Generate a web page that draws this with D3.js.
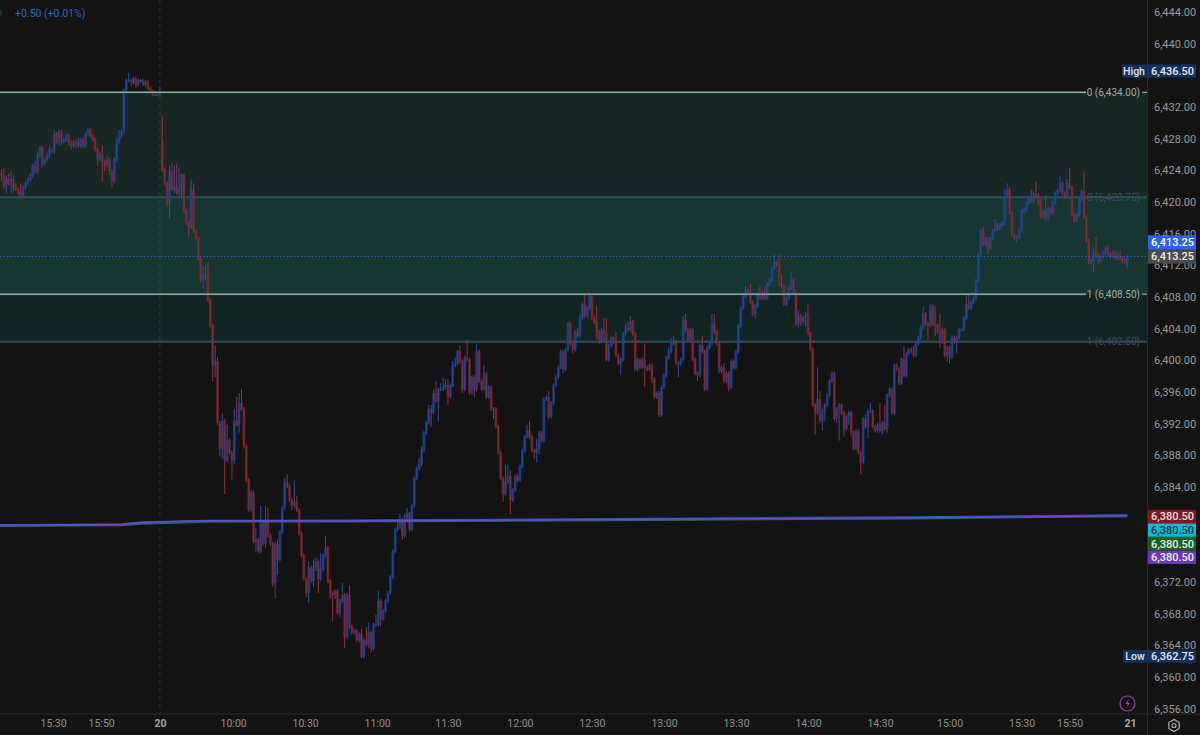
<!DOCTYPE html>
<html><head><meta charset="utf-8">
<script src="https://cdn.jsdelivr.net/npm/d3@7/dist/d3.min.js"></script>
<style>
html,body{margin:0;padding:0;background:#131313;overflow:hidden}
svg{display:block}
text{font-family:Roboto,"Liberation Sans",sans-serif}
</style></head><body><svg id="c" width="1200" height="735"></svg>
<script>
// prices are stored as points above this base
const priceBase = 6300;
const preCloses = [
123.5,122.25,123,122.5,123,122,121.75,121.5,121,122,
122.5,123,123.5,124.75,124,126,127,125,125.5,126,
126.75,126.5,128.75,127.75,129,127.75,128,128.5,127.75,127.25,
127.5,127.75,127.25,128,127.25,128.75,129.25,128.5,128,126.75,
125.5,126.25,125.25,124.75,125.5,124,122.75,125.5,127.75,128.5,
129,134.25,135.5,135.5,135.25,135.75,135,135.5,135.5,135,
135.25,134.5,134.25,133.75,133.75,133.75,134];
const sessionOpen = 128;
const sessionCloses = [
124.25,122.5,120,124,121.75,122,121.25,121.75,123.5,119,
117.5,117,121.75,116.5,115.5,113,110.25,110.75,111,107.75,
104.5,99.5,100,92.25,89,92.5,87.5,90,88.5,87.5,
92.5,92,94.75,94,89.25,85,81.25,83.5,77.25,77.5,
76,79.5,77,80,78,77,72,77,75,78.5,
81.5,84.75,84.25,82.5,81.75,82.25,81.25,78.25,75.5,72.5,
70.75,74,72.25,73.75,74.75,72.5,73.75,75.5,76.5,72.25,
70.75,70.5,71,68.25,69.75,70.5,65.25,70.5,66.5,65.75,
66,64.75,65.5,62.75,64.75,64.25,65.75,63.75,66.75,66.75,
69.75,67.5,68.5,69.75,70.75,72.75,76,78.75,79,80,
78,80,80.75,78.75,81.75,85.25,86.5,87,88.75,91,
92.25,94,93.5,96,95,96.5,96.5,96.75,97,95.5,
97,99.5,99.75,101.25,100,96.5,100.5,100.25,96,98,
96.5,101.25,97.5,96.5,98.5,95.5,96.75,94,94,91.75,
88.5,85.25,83.25,84.75,85.5,82.5,83.75,85.5,85,86.75,
88.75,90.5,91.25,90.5,88.75,88.5,89,91,90,95.25,
95.5,93,94.75,97,98,99.25,101.25,99,101.5,104.75,
102.25,101.5,103.75,103.25,105.5,107.25,105.75,106.75,108.25,105.5,
105,103.75,102.5,104,103.5,100.25,102,103,102.5,100.75,
99.75,100.25,103.5,104.25,104,105,103.5,99,100.25,99.25,
100.25,99.25,99,99.5,97.75,95.5,96,93.25,96.75,98.25,
100.5,101.25,102.25,102.5,99.75,99.75,100.25,105.25,104,102.75,
104,100.25,98.5,98.25,102,101.25,96.5,101.75,102.25,104.75,
103.75,102.25,98.75,99.25,97.5,98.5,96.75,100,99.25,101.25,
104.5,106.75,108.25,109,108.75,107.5,106,107,108.5,108,
108.75,108,109.75,110.25,111.75,112.5,112.25,109.75,109.5,107.25,
108,109.25,110.25,108.75,104.75,105.75,105,105.5,106,103.5,
101.5,94.5,93.5,95.25,92.5,93.75,94.5,95.75,97.5,98.5,
92.75,94,94.5,93.5,91.5,93,93.5,91,89,91.25,
88.5,87.25,92.75,91.75,93.75,93.75,91.75,91.25,92,91.25,
92.25,91.5,95.75,96.5,93.5,99.5,99,97.25,100.25,98.25,
101,101.5,101.25,100.75,102.25,103,104.25,106,104.75,104.5,
107,104.75,104.5,103.75,102.5,104,100.75,101.75,100.5,103,
102.5,103,104,104,105.5,107.25,106.75,107.5,108,110.25,
113.5,116.5,114.75,115.5,114.25,115.5,116.5,117.25,116.75,117.25,
117.5,120.75,121.75,118.75,116,115.5,115.75,116.5,119,119.25,
120,120.75,120.25,121.25,121,120,118.25,119,118,119.25,
118.75,120,121.25,121.5,122.5,121.25,120.75,122.5,122,118.5,
117.75,118.5,120.5,121.5,118.25,115.25,112.75,112.75,113.75,113.5,
112.75,113.25,113.75,114.25,113.5,113.25,113.75,113,113.5,113,112.75,112.5,113.25];
// wick lengths above the body top / below the body bottom, in points
const preWickUp = [
.5,1,.5,.75,1,.5,.5,.25,1,.25,
.25,.25,.25,.25,.5,.5,.25,.25,.25,.5,
.5,.25,.5,.25,.25,.25,.25,.25,.25,.25,
.5,.25,.5,.25,.25,.25,.25,.25,.25,.25,
.25,.25,1,.25,.5,.25,.25,.25,.5,.75,
.25,.25,.25,1,.25,.25,.25,.25,.25,.25,
.25,.25,.25,0,0,0,.75];
const preWickDown = [
.75,.5,1,.25,1.25,.5,.25,.5,.25,.25,
.25,.25,.25,.25,.25,.25,.25,.5,.25,.25,
.25,.25,.25,.25,.5,.5,.25,.25,.5,.5,
.25,.5,.25,.25,.25,.25,.25,.25,.25,.25,
.75,.25,2.5,.75,.25,.5,.75,.25,.25,.25,
.25,.25,.25,.25,.5,.25,.5,.25,.25,.25,
.25,.25,.25,.25,.25,.25,.25];
const sessionWickUp = [
3,.25,.25,.75,1,2.75,3,2.75,.25,.25,
.25,.25,1.25,.75,.25,.25,.25,1.25,1.25,1.5,
.25,.25,2,.5,.25,1,.25,2,.25,.25,
1.5,3,1.25,1.75,.25,.25,.25,.25,.25,1.5,
.25,2.25,.25,1.75,1.5,.25,.25,.25,.5,.25,
.25,.5,1,.25,.25,2.75,.75,.25,.25,.25,
.25,.75,.25,1.25,.5,.25,2,.25,1.5,.25,
.25,.25,.25,.25,.25,1.5,.25,.25,1.25,.25,
.25,.25,.25,.75,.25,1.75,1.25,.25,.25,1.25,
1.25,.25,.25,.25,.25,.25,.25,.25,.75,.75,
.25,.75,.75,.25,.25,.25,.25,.75,.5,.25,
.25,.5,.5,.5,1.5,.25,.75,1.25,.75,.75,
.25,.5,.75,.25,.75,.25,.25,2.25,.25,.25,
.25,1,.25,.25,1,.25,.25,.25,.25,.25,
.25,.25,.25,2.25,1.5,.75,.25,.25,.25,.25,
.25,.25,.75,1.25,.25,.25,1.25,.25,.25,.25,
.25,.75,.25,.25,.25,.25,.25,.25,.25,.25,
.25,.25,.25,.5,.5,.25,1.25,.25,.5,.25,
.25,2,.25,.25,1.5,2,.25,.25,.25,1.25,
.25,.25,.25,.5,.75,.75,.25,.25,.25,.25,
.25,2,.25,.25,.25,.25,.25,.25,.25,.25,
.25,.5,.75,.75,.25,.25,.25,.5,.75,.25,
.25,.25,.25,.25,.25,1.25,.25,.25,.25,1.25,
1.25,.25,.25,.25,.5,.25,.25,.25,.25,.25,
.25,.25,.25,.5,.25,1,.25,.25,.25,1,
.25,.75,.25,.25,.25,1,.25,1.25,1.25,.25,
.25,.25,1,.25,.25,.75,.25,.25,.25,1.25,
.25,.25,.25,4,1,.25,.25,.25,.25,.25,
.25,.25,.25,.25,.25,.25,.25,.25,.25,.25,
.25,.25,.25,.5,.25,1,.25,.25,.25,2.75,
.25,2.25,.25,.25,.25,.25,.25,.25,.25,1.75,
.25,.25,.25,.75,.25,.25,.25,1,.25,.25,
.25,.25,2.25,.25,2.25,.25,.25,.25,.25,.25,
.25,.25,.25,.25,.25,1.25,1.25,.25,.25,.25,
.25,.25,.5,.25,.25,.25,.25,.75,.25,.25,
.25,1,.75,.25,.25,.25,.25,.25,.25,.25,
.25,.25,1,.25,1.5,.25,.5,.25,2,.25,
.25,.25,.25,.25,1,.25,.25,.5,2,.25,
.25,.25,.25,.25,2.5,.25,.25,.25,.75,2,
.25,.25,.25,.25,.5,.25,.25,.25,.25,.5,.25,.25,.25];
const sessionWickDown = [
.25,.25,.5,2,.25,.5,.25,.5,1,.25,
.25,1.25,.25,.25,.25,.25,.25,1,.5,.25,
.25,2,1.5,.25,1,1.25,4.25,.25,.25,2.5,
.5,.25,1,.25,.25,.25,.25,.25,.25,1.25,
.25,.25,.25,.5,.25,.25,.5,2,2,.25,
.25,.25,.25,.25,.5,.25,.25,.25,.25,.25,
.5,1.25,.25,.75,.25,1.75,.25,.25,.25,.25,
.75,3.25,.5,.25,.5,.25,1.5,.25,.25,.25,
.25,.25,.25,.25,.25,.25,.5,.5,.25,.25,
.25,1,.25,.25,.25,.25,.25,.25,.25,.25,
.5,.25,.25,.25,.25,.25,.25,.25,.25,.25,
.25,.25,1.75,.25,.25,2.5,.25,.25,.25,1,
.25,.25,.25,.25,.25,.5,.25,.25,.25,.25,
1,.25,.25,.25,.25,.25,.25,.25,1.25,.25,
.25,.25,1,.25,.25,1.75,.25,.25,.25,.25,
.25,.25,.25,.25,.25,.75,1.25,.75,.25,.25,
.25,.25,.25,.25,.25,.25,.25,.5,.25,.25,
.25,.5,.25,.25,.25,.25,.25,.25,.25,.25,
.25,1,.25,.25,1,.25,.25,.25,.25,.25,
.25,1.5,.25,.25,.25,.25,.25,.25,.25,.25,
.25,2.5,.25,.25,.5,.25,.25,.25,.25,.25,
.25,.25,.25,.25,.25,1.75,.25,.25,.25,.25,
.25,.25,.25,.75,.25,.25,.25,.25,.25,.25,
.25,.25,.25,.25,.25,.25,.5,.25,.25,.25,
.25,.25,.25,.25,.25,.25,.25,.5,.25,.25,
.25,.25,.25,.25,.25,.25,.25,.25,.25,.25,
.25,.25,.25,.25,.25,.5,.5,.25,1,.25,
.25,.25,2.75,.25,.25,1.25,1.25,.25,.25,.25,
.25,.5,4,.25,1,.25,1,.5,.25,.25,
.25,1.5,.25,.25,1.5,.25,.25,.25,.25,.25,
.5,.25,.5,.25,.25,.25,.25,.25,.25,.25,
.25,.25,.25,.25,.25,.25,.25,.25,.25,1.75,
.25,.25,1.25,.25,.75,.25,.25,.75,.75,.25,
.25,1.5,.25,.25,.25,.25,.25,.25,.25,.25,
.25,.25,.25,.25,.75,.25,.25,.25,.25,.25,
.25,.25,.25,.25,.25,.25,.5,.25,.25,.25,
.25,.25,.25,.25,.25,.25,.25,.25,.25,.25,
.25,.25,.25,.25,.25,.25,.25,.25,.25,.25,
.25,.25,.25,.25,.25,.25,.5,.5,1.5,.25,
.5,.25,.25,.25,.25,.25,.25,.25,.25,.25,.25,.25,.75];
// slow average lines
const avgBars = [-1,50,58,85,140,210,290,380,469];
const avgPurple = [6379.34,6379.42,6379.66,6379.9,6379.85,6379.95,6380.1,6380.25,6380.5];
const avgBlue = [6379.3,6379.4,6379.62,6379.86,6379.88,6379.98,6380.14,6380.3,6380.55];
const avgGreen = [6379.25,6379.35,6379.55,6379.8,6379.82,6379.92,6380.05,6380.2,6380.5];
// axes
const priceTicks = [6444,6440,6432,6428,6424,6420,6416,6412,6408,6404,6400,6396,6392,6388,6384,6372,6368,6364,6360,6356];
const timeTickBars = [21.5,41.5,66,96.5,126.5,156.5,186,216,246,276,306,336,366,395,425,445,470.2];
const timeTickLabels = ["15:30","15:50","20","10:00","10:30","11:00","11:30","12:00","12:30","13:00","13:30","14:00","14:30","15:00","15:30","15:50","21"];
// fib levels
const fibTop = [6434,6408.5];
const fibBottom = [6420.75,6402.5];
const fibTopLabels = ["0 (6,434.00)","1 (6,408.50)"];
const fibBottomLabels = ["0 (6,420.75)","1 (6,402.50)"];
const lastPrice = 6413.25;
const tagPrices = ["6,380.50","6,380.50","6,380.50","6,380.50"];
const tagColors = ["#801922","#00bcd4","#1b5e20","#673ab7"];
const tagText = ["#f0dede","#10343a","#e6f0e6","#f0eafa"];
const highLow = [["High",6436.5,"6,436.50"],["Low",6362.75,"6,362.75"]];

const W=1147.5, H=714;
const closes = preCloses.concat(sessionCloses);
const wickUp = preWickUp.concat(sessionWickUp);
const wickDown = preWickDown.concat(sessionWickDown);
const n0 = preCloses.length;
const bars = closes.map((c,i)=>{
  const close=c+priceBase;
  const open=(i===n0?sessionOpen:(i===0?c+.25:closes[i-1]))+priceBase;
  const top=Math.max(open,close), bot=Math.min(open,close);
  return {i,open,close,high:top+wickUp[i],low:bot-wickDown[i]};
});
const x=d3.scaleLinear().domain([0,469]).range([1.5,1127.2]);
const y=d3.scaleLinear().domain([6356,6444]).range([709.8,13.1]);
const svg=d3.select("#c");
svg.append("rect").attr("width",1200).attr("height",735).attr("fill","#131313");

const clipDefs=svg.append("defs").append("clipPath").attr("id","plot");
clipDefs.append("rect").attr("width",W).attr("height",H);
const plot=svg.append("g").attr("clip-path","url(#plot)");

// session separator
plot.append("line").attr("x1",x(66)).attr("x2",x(66)).attr("y1",0).attr("y2",H)
  .attr("stroke","#2b3025").attr("stroke-dasharray","4 4");

// fib zones
plot.selectAll(".z").data(d3.range(2)).join("rect")
  .attr("x",0).attr("width",W)
  .attr("y",(_,k)=>y(k?fibBottom[0]:fibTop[0]))
  .attr("height",(_,k)=>y(k?fibBottom[1]:fibTop[1])-y(k?fibBottom[0]:fibTop[0]))
  .attr("fill",(_,k)=>k?"#10a893":"#45b1a1").attr("fill-opacity",.12);

// dim level lines
fibBottom.forEach(p=>{
  plot.append("line").attr("x1",0).attr("x2",W).attr("y1",y(p)).attr("y2",y(p)).attr("stroke","#1f5c50").attr("stroke-width",2);
  plot.append("line").attr("x1",0).attr("x2",W).attr("y1",y(p)).attr("y2",y(p)).attr("stroke","#3b3f78").attr("stroke-width",.8);
});

// candles
const upW="#2962d8", dnW="#b22c3a", upB="#21438f", dnB="#7c2a33";
const g=plot.append("g");
g.selectAll(".w").data(bars).join("line")
  .attr("x1",d=>x(d.i)).attr("x2",d=>x(d.i))
  .attr("y1",d=>y(d.high)).attr("y2",d=>y(d.low))
  .attr("stroke",d=>d.close>=d.open?"#2a50a8":"#98303c").attr("stroke-width",1);
g.selectAll(".b").data(bars).join("rect")
  .attr("x",d=>x(d.i)-1.2).attr("width",2.4)
  .attr("y",d=>y(Math.max(d.open,d.close)))
  .attr("height",d=>Math.max(1,Math.abs(y(d.open)-y(d.close))))
  .attr("fill",d=>d.close>=d.open?upB:dnB).attr("fill-opacity",.72)
  .attr("stroke",d=>d.close>=d.open?upW:dnW).attr("stroke-opacity",.25).attr("stroke-width",.5);

// averages
const line=d3.line().x((d)=>x(d[0])).y(d=>y(d[1]));
[[avgGreen,"#1d6f58",2.6],[avgBlue,"#2a56b8",2.4],[avgPurple,"#6a4bc0",1.4]].forEach(([v,col,sw])=>{
  plot.append("path").attr("d",line(avgBars.map((b,k)=>[b,v[k]]))).attr("fill","none").attr("stroke",col).attr("stroke-width",sw);
});

// bright level lines
fibTop.forEach(p=>{
  plot.append("line").attr("x1",0).attr("x2",1086).attr("y1",y(p)).attr("y2",y(p)).attr("stroke","#1f5c50").attr("stroke-width",2.2);
  plot.append("line").attr("x1",0).attr("x2",1086).attr("y1",y(p)).attr("y2",y(p)).attr("stroke","#b9c9c0").attr("stroke-width",1);
  plot.append("line").attr("x1",1142).attr("x2",W).attr("y1",y(p)).attr("y2",y(p)).attr("stroke","#b9c9c0").attr("stroke-width",1);
});
// last price line
plot.append("line").attr("x1",0).attr("x2",W).attr("y1",y(lastPrice)).attr("y2",y(lastPrice))
  .attr("stroke","#2962d0").attr("stroke-width",1).attr("stroke-dasharray","1.5 2");

// level labels
fibBottom.forEach((p,k)=>{
  plot.append("text").attr("x",1140).attr("y",y(p)+3.6).attr("text-anchor","end")
    .attr("font-size",10).attr("fill","#3b4a63").text(fibBottomLabels[k]);
});
fibTop.forEach((p,k)=>{
  plot.append("text").attr("x",1140).attr("y",y(p)+3.6).attr("text-anchor","end")
    .attr("font-size",10).attr("fill","#a3aca8").text(fibTopLabels[k]);
});

// borders
svg.append("line").attr("x1",W).attr("x2",W).attr("y1",0).attr("y2",735).attr("stroke","#2a2a2a");
svg.append("line").attr("x1",0).attr("x2",1200).attr("y1",H).attr("y2",H).attr("stroke","#2a2a2a");

// price axis
const ya=d3.axisRight(y).tickValues(priceTicks).tickSize(0).tickPadding(0).tickFormat(d3.format(",.2f"));
const yg=svg.append("g").attr("transform",`translate(1154,-1)`).call(ya);
yg.select(".domain").remove();
yg.selectAll("text").attr("fill","#9a9a9a").attr("font-size",11).style("font-family","Roboto,sans-serif");

// time axis
const xa=d3.axisBottom(x).tickValues(timeTickBars).tickSize(0).tickPadding(0).tickFormat((_,k)=>timeTickLabels[k]);
const xg=svg.append("g").attr("transform",`translate(0,${H+6})`).call(xa);
xg.select(".domain").remove();
xg.selectAll("text").attr("fill",(_,k)=>/^\d\d$/.test(timeTickLabels[k])?"#a8a8a8":"#8f8f8f")
  .attr("font-weight",(_,k)=>/^\d\d$/.test(timeTickLabels[k])?700:400)
  .attr("font-size",10.5).style("font-family","Roboto,sans-serif");

// tags
function tag(cy,fill,txt,col,h){
  svg.append("rect").attr("x",W+.5).attr("y",cy-h/2).attr("width",48).attr("height",h).attr("fill",fill);
  svg.append("text").attr("x",1172.5).attr("y",cy+3.8).attr("text-anchor","middle").attr("font-size",11)
    .attr("font-weight",500).attr("fill",col).text(txt);
}
const fmt=d3.format(",.2f");
highLow.forEach(([lab,p,t])=>{
  const cy=y(p)-(lab==="High"?1.5:0);
  svg.append("rect").attr("x",lab==="High"?1122:1123).attr("y",cy-6.5).attr("width",28).attr("height",13).attr("fill","#132f5e");
  svg.append("text").attr("x",lab==="High"?1134:1135).attr("y",cy+3.8).attr("text-anchor","middle").attr("font-size",10.5).attr("font-weight",500).attr("fill","#dfe6f2").text(lab);
  tag(cy,"#132f5e",t,"#e6ebf5",13);
});
tag(y(lastPrice)-14,"#2962ff",fmt(lastPrice),"#ffffff",14.5);
tag(y(lastPrice),"#4a4a4a",fmt(lastPrice),"#f0f0f0",14);
tagPrices.forEach((t,k)=>tag(516.5+k*13.6,tagColors[k],t,tagText[k],13.4));

// legend
svg.append("text").attr("x",15).attr("y",17).attr("font-size",10.5).attr("fill","#2f63c8").text("+0.50 (+0.01%)");
svg.append("circle").attr("cx",-1).attr("cy",13).attr("r",3).attr("fill","#123a35");

// lightning icon
svg.append("circle").attr("cx",1127.5).attr("cy",703.5).attr("r",7.5).attr("fill","none").attr("stroke","#9c3fb5").attr("stroke-width",1.2);
svg.append("path").attr("d","M1129 699 L1125.5 704 L1128 704 L1126 708 L1130 703 L1127.5 703 Z").attr("fill","#b04ac8");

// settings icon
const cx=1174,cy=725.5,r=6;
svg.append("path").attr("d",d3.range(6).map(k=>{const a=Math.PI/6+k*Math.PI/3;return (k?"L":"M")+(cx+r*Math.cos(a))+" "+(cy+r*Math.sin(a));}).join("")+"Z")
  .attr("fill","none").attr("stroke","#b0b0b0").attr("stroke-width",1.2);
svg.append("circle").attr("cx",cx).attr("cy",cy).attr("r",2).attr("fill","none").attr("stroke","#b0b0b0").attr("stroke-width",1.2);
</script></body></html>
